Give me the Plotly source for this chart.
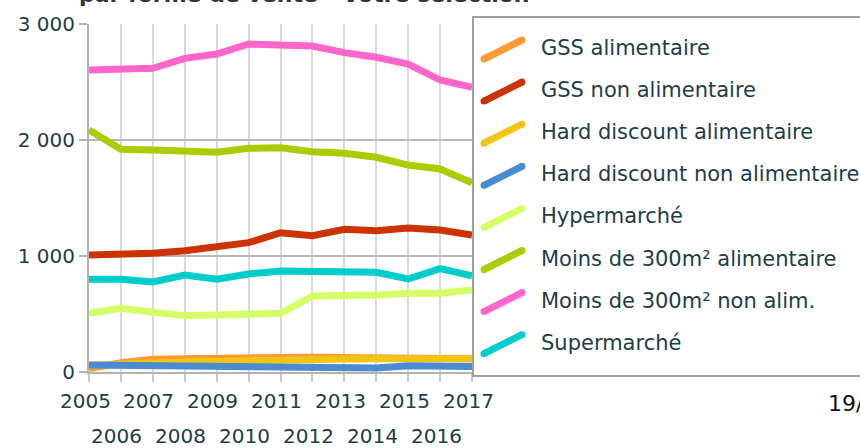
import plotly.graph_objects as go

# ---- data -------------------------------------------------------------
years = list(range(2005, 2018))

series_names = [
    "GSS alimentaire",
    "GSS non alimentaire",
    "Hard discount alimentaire",
    "Hard discount non alimentaire",
    "Hypermarché",
    "Moins de 300m² alimentaire",
    "Moins de 300m² non alim.",
    "Supermarché",
]

gss_alim = [30, 80, 110, 110, 112, 122, 125, 128, 125, 128, 130, 125, 115]
gss_non_alim = [1009, 1009, 1023, 1046, 1080, 1115, 1201, 1175, 1230, 1218, 1241, 1224, 1181]
hd_alim = [55, 70, 85, 88, 92, 100, 105, 110, 112, 115, 118, 118, 115]
hd_non_alim = [60, 58, 55, 50, 50, 48, 45, 32, 35, 35, 54, 55, 48]
hypermarche = [506, 549, 515, 486, 491, 506, 506, 655, 655, 664, 678, 678, 707]
moins300_alim = [2086, 1920, 1914, 1908, 1894, 1928, 1934, 1899, 1885, 1851, 1784, 1750, 1632]
moins300_non_alim = [2603, 2606, 2618, 2704, 2741, 2828, 2816, 2810, 2753, 2713, 2655, 2517, 2454]
supermarche = [799, 799, 776, 836, 799, 845, 871, 871, 865, 859, 802, 891, 828]

series_values = [gss_alim, gss_non_alim, hd_alim, hd_non_alim,
                 hypermarche, moins300_alim, moins300_non_alim, supermarche]

colors = ["#ff9933", "#cc3300", "#f2c414", "#4a8bd2",
          "#d4ff66", "#aacc00", "#ff66cc", "#00cccc"]

y_tickvals = [0, 1000, 2000, 3000]
y_ticktext = ["0", "1 000", "2 000", "3 000"]

title_text = "par forme de vente - Votre sélection"
date_text = "19/"

# ---- geometry (pixels) ------------------------------------------------
W, H = 860, 448
L, R, T, B = 89, 472, 24, 372
FONT = "DejaVu Sans"
TXT = "#1e3d47"


def px_x(px):
    return (px - L) / (R - L)


def px_y(py):
    return (B - py) / (B - T)


fig = go.Figure()

for name, vals, col in zip(series_names, series_values, colors):
    fig.add_trace(go.Scatter(
        x=years, y=vals, name=name, mode="lines",
        line=dict(color=col, width=7),
        showlegend=False, hoverinfo="skip",
    ))

annotations = []

# staggered year labels under the axis
for i, yr in enumerate(years):
    row_y = 401 if i % 2 == 0 else 436
    annotations.append(dict(
        x=yr, xref="x", y=px_y(row_y), yref="paper",
        text=str(yr), showarrow=False, xanchor="center", yanchor="middle",
        height=18, xshift=-4, font=dict(family=FONT, size=20, color=TXT),
    ))

# title (top of the page)
annotations.append(dict(
    x=px_x(77), xref="paper", y=px_y(-5.5), yref="paper",
    text="<b>" + title_text + "</b>", showarrow=False,
    xanchor="left", yanchor="middle",
    font=dict(family=FONT, size=22, color="#333333"),
))

# date stamp at bottom right
annotations.append(dict(
    x=px_x(826), xref="paper", y=px_y(403), yref="paper",
    text=date_text, showarrow=False, xanchor="left", yanchor="middle",
    font=dict(family=FONT, size=22, color="#111111"),
))

shapes = []

# legend frame
shapes.append(dict(
    type="rect", xref="paper", yref="paper",
    x0=px_x(473), x1=px_x(900), y0=px_y(376), y1=px_y(17),
    line=dict(color="#a0a0a0", width=2), fillcolor="white", layer="above",
))

row0, row_step = 48, 42.1
for k, (name, col) in enumerate(zip(series_names, colors)):
    cy = row0 + k * row_step
    xa, ya = 484, cy + 11
    xb, yb = 522, cy - 8
    shapes.append(dict(
        type="line", xref="paper", yref="paper",
        x0=px_x(xa), y0=px_y(ya), x1=px_x(xb), y1=px_y(yb),
        line=dict(color=col, width=7), layer="above",
    ))
    for cx, cyy in ((xa, ya), (xb, yb)):
        shapes.append(dict(
            type="circle", xref="paper", yref="paper",
            xsizemode="pixel", ysizemode="pixel",
            xanchor=px_x(cx), yanchor=px_y(cyy),
            x0=-3.5, x1=3.5, y0=-3.5, y1=3.5,
            line=dict(width=0), fillcolor=col, layer="above",
        ))
    annotations.append(dict(
        x=px_x(539), xref="paper", y=px_y(cy), yref="paper",
        text=name, showarrow=False, xanchor="left", yanchor="middle",
        font=dict(family=FONT, size=21, color=TXT),
    ))

fig.update_layout(
    width=W, height=H,
    margin=dict(l=L, r=W - R, t=T, b=H - B, pad=0),
    paper_bgcolor="white", plot_bgcolor="white",
    showlegend=False,
    annotations=annotations,
    shapes=shapes,
    xaxis=dict(
        range=[2005, 2017], tickvals=years, showticklabels=False,
        ticks="outside", ticklen=8, tickwidth=2, tickcolor="#c8c8c8",
        showgrid=True, gridcolor="#dadada", gridwidth=2,
        showline=True, linecolor="#b3b3b3", linewidth=2,
        zeroline=False, fixedrange=True,
    ),
    yaxis=dict(
        range=[0, 3000], tickvals=y_tickvals, ticktext=y_ticktext,
        ticks="outside", ticklen=8, tickwidth=2, tickcolor="#b3b3b3",
        tickfont=dict(family=FONT, size=20, color=TXT),
        showgrid=True, gridcolor="#b8b8b8", gridwidth=2,
        showline=True, linecolor="#b3b3b3", linewidth=2,
        zeroline=False, fixedrange=True,
    ),
)

fig.write_html("out.html")
